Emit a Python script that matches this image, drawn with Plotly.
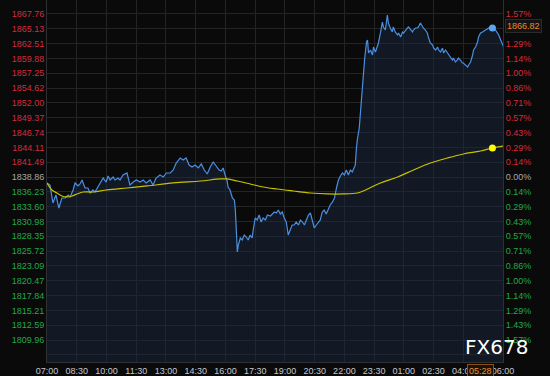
import plotly.graph_objects as go

# ---- data (minutes after 07:00, price) ----
price_min = [0, 9, 18, 27, 36, 45, 55, 64, 70, 79, 85, 94, 100, 106, 115, 124, 130, 139, 145, 155,
             161, 170, 179, 185, 191, 200, 206, 215, 221, 230, 242, 251, 261, 270, 282, 291, 300, 312,
             321, 330, 342, 352, 361, 373, 382, 391, 403, 412, 421, 430, 439, 448, 458, 467, 476, 485,
             494, 503, 512, 521, 527, 533, 539, 545, 548, 554, 561, 567, 570, 573, 574, 576, 579, 585,
             591, 597, 603, 609, 615, 621, 624, 630, 636, 642, 648, 654, 661, 667, 676, 682, 688, 694,
             700, 706, 712, 718, 724, 727, 730, 736, 742, 748, 754, 761, 767, 773, 779, 785, 791, 797,
             803, 809, 815, 821, 827, 833, 839, 845, 851, 857, 864, 870, 876, 882, 888, 894, 900, 906,
             912, 918, 924, 930, 933, 936, 939, 945, 948, 951, 954, 957, 961, 967, 970, 973, 979, 985,
             988, 994, 1000, 1003, 1009, 1015, 1018, 1024, 1030, 1033, 1039, 1045, 1048, 1054, 1061,
             1064, 1070, 1076, 1079, 1085, 1091, 1094, 1100, 1106, 1109, 1115, 1121, 1124, 1130, 1136,
             1139, 1145, 1151, 1154, 1160, 1167, 1170, 1176, 1182, 1185, 1191, 1197, 1200, 1206, 1212,
             1215, 1221, 1227, 1230, 1236, 1242, 1245, 1251, 1257, 1260, 1267, 1273, 1276, 1282, 1288,
             1291, 1297, 1303, 1306, 1312, 1318, 1321, 1327, 1333, 1336, 1342, 1348, 1357, 1364, 1367,
             1373, 1379, 1382]
price = [1837.80, 1837.44, 1834.25, 1835.67, 1833.36, 1835.14, 1835.14, 1835.67, 1835.32, 1836.56,
         1837.80, 1837.27, 1837.62, 1838.33, 1836.91, 1836.91, 1836.02, 1836.56, 1836.20, 1837.27,
         1837.97, 1838.68, 1837.97, 1839.04, 1838.33, 1838.86, 1838.33, 1838.68, 1838.33, 1839.21,
         1839.57, 1837.44, 1837.97, 1838.33, 1837.97, 1838.33, 1837.80, 1838.33, 1837.44, 1838.68,
         1839.21, 1838.86, 1839.57, 1839.57, 1840.10, 1841.34, 1842.23, 1841.88, 1842.23, 1840.99,
         1840.63, 1840.99, 1840.46, 1841.17, 1840.10, 1839.39, 1840.63, 1841.52, 1840.81, 1840.10,
         1839.92, 1840.46, 1839.21, 1838.15, 1837.09, 1836.56, 1835.14, 1834.78, 1833.01, 1829.46,
         1826.80, 1825.56, 1826.80, 1828.05, 1827.69, 1828.58, 1828.22, 1827.69, 1828.58, 1828.05,
         1829.46, 1831.59, 1831.24, 1832.12, 1830.88, 1831.59, 1831.24, 1832.12, 1831.95, 1832.30,
         1832.66, 1832.48, 1833.01, 1832.30, 1832.66, 1831.59, 1830.88, 1829.82, 1828.58, 1829.46,
         1830.35, 1830.35, 1830.88, 1830.35, 1831.24, 1830.88, 1830.35, 1831.24, 1832.12, 1832.48,
         1831.24, 1829.82, 1830.35, 1830.88, 1831.24, 1832.66, 1833.01, 1832.30, 1833.01, 1833.90,
         1834.43, 1835.14, 1836.91, 1838.33, 1839.04, 1839.57, 1839.21, 1840.10, 1839.21, 1840.10,
         1839.75, 1840.46, 1840.99, 1843.65, 1845.42, 1847.55, 1849.85, 1852.51, 1854.64, 1856.94,
         1859.60, 1862.80, 1863.15, 1860.85, 1861.38, 1860.49, 1861.91, 1861.02, 1861.91, 1862.62,
         1864.39, 1866.34, 1865.46, 1864.92, 1867.58, 1866.16, 1865.28, 1864.57, 1865.46, 1864.57,
         1864.04, 1864.39, 1863.68, 1864.57, 1864.39, 1864.92, 1865.28, 1865.46, 1864.92, 1864.57,
         1864.92, 1865.28, 1865.28, 1865.46, 1866.16, 1865.46, 1865.28, 1864.92, 1864.39, 1863.68,
         1862.62, 1862.26, 1861.73, 1861.38, 1861.91, 1861.38, 1861.02, 1861.73, 1860.85, 1861.38,
         1860.85, 1860.49, 1860.14, 1859.60, 1859.96, 1859.25, 1859.60, 1859.96, 1859.60, 1859.07,
         1859.07, 1858.72, 1858.36, 1858.72, 1859.25, 1860.49, 1861.38, 1861.91, 1862.80, 1863.68,
         1864.39, 1864.57, 1864.75, 1864.92, 1865.10, 1865.28, 1865.10, 1865.28, 1864.92, 1864.39,
         1864.04, 1863.15, 1862.26, 1861.91]

ma_min = [0, 15, 30, 45, 61, 76, 91, 109, 139, 182, 242, 303, 382, 464, 524, 545, 576, 615, 654,
          697, 745, 797, 848, 897, 939, 957, 1009, 1061, 1109, 1160, 1212, 1260, 1312, 1348, 1382]
ma = [1837.80, 1836.56, 1836.02, 1835.49, 1835.32, 1835.49, 1835.85, 1836.20, 1836.20, 1836.56,
      1836.91, 1837.27, 1837.80, 1838.15, 1838.51, 1838.51, 1838.15, 1837.62, 1837.09, 1836.73,
      1836.38, 1836.02, 1835.85, 1835.85, 1836.02, 1836.38, 1837.80, 1838.86, 1840.10, 1841.34,
      1842.23, 1842.94, 1843.47, 1844.00, 1844.36]

now_min = 1348
now_label = "05:28"
last_price_label = "1866.82"
now_price = 1865.28
now_ma = 1844.00

price_ticks = [1867.76, 1865.13, 1862.51, 1859.88, 1857.25, 1854.62, 1852.00, 1849.37, 1846.74,
               1844.11, 1841.49, 1838.86, 1836.23, 1833.60, 1830.98, 1828.35, 1825.72, 1823.09,
               1820.47, 1817.84, 1815.21, 1812.59, 1809.96]
# the 1.43% label near the top is covered by the last-price box in the reference
pct_ticks = ["1.57%", "", "1.29%", "1.14%", "1.00%", "0.86%", "0.71%", "0.57%", "0.43%", "0.29%",
             "0.14%", "0.00%", "0.14%", "0.29%", "0.43%", "0.57%", "0.71%", "0.86%", "1.00%", "1.14%",
             "1.29%", "1.43%", "1.57%"]
base_price = 1838.86

time_tick_min = [0, 90, 180, 270, 360, 450, 540, 630, 720, 810, 900, 990, 1080, 1170, 1260, 1380]
time_tick_text = ["07:00", "08:30", "10:00", "11:30", "13:00", "14:30", "16:00", "17:30", "19:00",
                  "20:30", "22:00", "23:30", "01:00", "02:30", "04:00", "06:00"]

RED, GREEN, GREY = "#d42a3e", "#22a84a", "#a8a8a8"


def col(v, ref):
    if abs(v - ref) < 1e-6:
        return GREY
    return RED if v > ref else GREEN


left_text = ['<span style="color:%s">%.2f</span>' % (col(v, base_price), v) for v in price_ticks]
right_text = [('<span style="color:%s">%s</span>' % (col(v, base_price), t)) if t else ""
              for v, t in zip(price_ticks, pct_ticks)]

step = price_ticks[0] - price_ticks[1]
grid_vals = price_ticks + [price_ticks[-1] - step]
left_text_g = left_text + [""]
right_text_g = right_text + [""]

yr = [1806.06, 1870.24]
xr = [0, 1380]

fig = go.Figure()
fig.add_trace(go.Scatter(x=price_min, y=price, mode="lines",
                         line=dict(color="#4b8fe2", width=1.2),
                         fill="tozeroy", fillcolor="rgba(26,40,64,0.5)",
                         hoverinfo="skip", showlegend=False))
fig.add_trace(go.Scatter(x=ma_min, y=ma, mode="lines", line=dict(color="#c8c000", width=1.2),
                         line_shape="spline", hoverinfo="skip", showlegend=False))
fig.add_trace(go.Scatter(x=[now_min], y=[now_price], mode="markers",
                         marker=dict(color="#5aa6f2", size=7), showlegend=False))
fig.add_trace(go.Scatter(x=[now_min], y=[now_ma], mode="markers",
                         marker=dict(color="#ffff00", size=7), showlegend=False))
# invisible trace to enable the right axis
fig.add_trace(go.Scatter(x=[0], y=[base_price], yaxis="y2", mode="markers",
                         marker=dict(opacity=0), showlegend=False, hoverinfo="skip"))

fig.update_layout(
    width=550, height=376,
    margin=dict(l=47, r=47, t=0, b=14),
    paper_bgcolor="#0a0a0a", plot_bgcolor="#0a0a0a",
    font=dict(family="Liberation Sans, Arial, sans-serif", size=9),
    xaxis=dict(range=xr, tickvals=time_tick_min, ticktext=time_tick_text,
               showgrid=True, gridcolor="#222426", gridwidth=1, zeroline=False,
               showline=True, linecolor="#2e3034", ticks="",
               tickfont=dict(color="#c4c8d2", size=9)),
    yaxis=dict(range=yr, tickvals=grid_vals, ticktext=left_text_g,
               showgrid=True, gridcolor="#222426", gridwidth=1, zeroline=False,
               showline=True, linecolor="#2e3034", ticks="", tickfont=dict(size=9)),
    yaxis2=dict(range=yr, overlaying="y", side="right", tickvals=grid_vals,
                ticktext=right_text_g, showgrid=False, zeroline=False,
                showline=True, linecolor="#2e3034", ticks="", tickfont=dict(size=9)),
)

fig.add_annotation(x=1.0, xref="paper", xanchor="left", xshift=2, y=1866.82 - 1.2, yref="y",
                   text=last_price_label, showarrow=False,
                   font=dict(color="#e88a2c", size=9), bgcolor="#141414",
                   bordercolor="#2a2a2a", borderwidth=1, borderpad=1)
fig.add_annotation(x=now_min - 36, xref="x", y=0, yref="paper", yanchor="top", yshift=-2,
                   text=now_label, showarrow=False,
                   font=dict(color="#f0902a", size=9), bgcolor="#1a1208",
                   bordercolor="#8a5218", borderwidth=1, borderpad=1)
fig.add_annotation(x=1.0, xref="paper", xanchor="right", xshift=27, y=0, yref="paper",
                   yanchor="bottom", yshift=1, text="FX678", showarrow=False,
                   font=dict(color="#ffffff", size=20, family="DejaVu Sans, sans-serif"))

fig.write_html("out.html")
